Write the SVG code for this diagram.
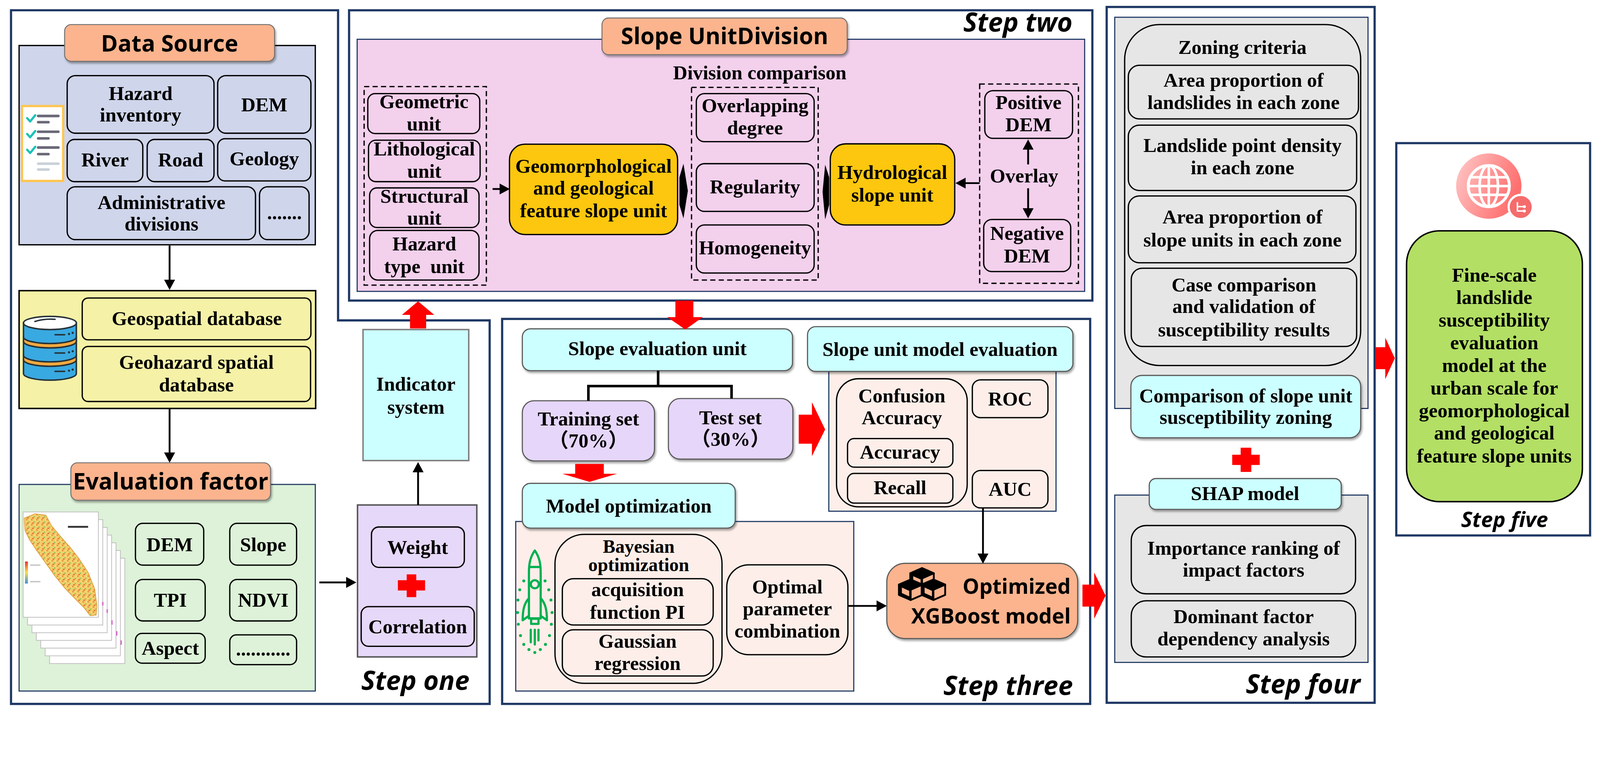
<svg xmlns="http://www.w3.org/2000/svg" xmlns:xlink="http://www.w3.org/1999/xlink" width="4359" height="1948" viewBox="0 0 4359 1948" style="max-width:100vw;height:auto">
<defs>
<style>
.t{font-family:"Liberation Serif","Times New Roman","Noto Sans CJK SC",serif;font-weight:bold;font-size:54px;fill:#000;text-anchor:middle}
.h{font-family:"Open Sans","Liberation Sans",sans-serif;font-weight:bold;font-size:62px;fill:#000;text-anchor:middle}
.st{font-family:"Open Sans","Liberation Sans",sans-serif;font-weight:bold;font-style:italic;font-size:72px;fill:#000;text-anchor:end}
.frame{fill:none;stroke:#1F3864;stroke-width:6}
.panel{stroke:#1F3864;stroke-width:3}
.bx{stroke:#000;stroke-width:3.5}
.nb{fill:none;stroke:#000;stroke-width:3.5}
.dash{fill:none;stroke:#000;stroke-width:3.5;stroke-dasharray:14 9}
.cyan{fill:#CCFFFF;stroke:#595959;stroke-width:3;filter:url(#sh)}
.hdr{fill:#FBB48E;stroke:#6E6E6E;stroke-width:2.5;filter:url(#sh)}
.conn{fill:none;stroke:#000;stroke-width:5;marker-end:url(#ah)}
.red{fill:#FF0000}
.rk{fill:none;stroke:#00B050;stroke-width:6;stroke-linejoin:round;stroke-linecap:round}
.dot{fill:#00B050}
.db{stroke:#263238;stroke-width:4}
</style>
<marker id="ah" markerWidth="28" markerHeight="30" refX="1" refY="15" orient="auto" markerUnits="userSpaceOnUse">
<path d="M0,0 L28,15 L0,30 Z" fill="#000"/>
</marker>
<filter id="sh" x="-10%" y="-15%" width="125%" height="140%">
<feDropShadow dx="3" dy="5" stdDeviation="3" flood-color="#000" flood-opacity="0.35"/>
</filter>
<linearGradient id="globeG" x1="0" y1="0" x2="1" y2="0.4">
<stop offset="0" stop-color="#FFC9C9"/>
<stop offset="1" stop-color="#FF6F6F"/>
</linearGradient>
<linearGradient id="legG" x1="0" y1="0" x2="0" y2="1">
<stop offset="0" stop-color="#E8322C"/>
<stop offset="0.5" stop-color="#F9E04A"/>
<stop offset="1" stop-color="#3A8FE0"/>
</linearGradient>
<pattern id="mott" width="14" height="14" patternUnits="userSpaceOnUse">
<rect width="14" height="14" fill="#F3CF6A"/>
<rect x="0" y="0" width="5" height="4" fill="#E9963F"/>
<rect x="7" y="6" width="4" height="4" fill="#9CC45B"/>
<rect x="3" y="10" width="5" height="3" fill="#E46A35"/>
<rect x="10" y="1" width="3" height="3" fill="#F7E58A"/>
</pattern>
<g id="cube">
<path d="M0,14 L32,0 L64,14 L32,28 Z" fill="#000" stroke="#000" stroke-width="5" stroke-linejoin="round"/>
<path d="M0,14 L32,28 L32,56 L0,42 Z" fill="#000" stroke="#000" stroke-width="5" stroke-linejoin="round"/>
<path d="M32,28 L64,14 L64,42 L32,56 Z" fill="#FBB48E" stroke="#000" stroke-width="5" stroke-linejoin="round"/>
<path d="M8,22 L28,31 L28,46 L8,37 Z" fill="#FBB48E"/>
</g>
<g id="sheet">
<rect x="0" y="0" width="205" height="287" fill="#FFFFFF" stroke="#BDBDBD" stroke-width="2"/>
</g>
</defs>

<rect x="0" y="0" width="4359" height="1948" fill="#FFFFFF"/>

<!-- Step frames -->
<g id="frames">
<path class="frame" d="M30,28 H921 V873 H1334 V1918 H30 Z"/>
<rect class="frame" x="951" y="28" width="2025" height="791"/>
<rect class="frame" x="1368" y="869" width="1602" height="1049"/>
<rect class="frame" x="3015" y="19" width="730" height="1896"/>
<rect class="frame" x="3804" y="390" width="528" height="1069"/>
</g>

<!-- ================= STEP ONE ================= -->
<g id="data-source">
<rect x="52" y="124" width="807" height="543" fill="#CFD5EA" stroke="#000" stroke-width="3.5"/>
<rect class="hdr" x="176" y="67" width="572" height="100" rx="18"/>
<text class="h" x="462" y="140">Data Source</text>
<g id="checklist-icon">
<rect x="60" y="289" width="112" height="204" fill="#FFFFFF" stroke="#FFC54D" stroke-width="6"/>
<path d="M74,322 L82,331 L96,314 M74,365 L82,374 L96,357 M74,408 L82,417 L96,400" fill="none" stroke="#1BC2B8" stroke-width="6" stroke-linecap="round" stroke-linejoin="round"/>
<path d="M104,316 H159 M104,333 H132 M104,359 H159 M104,377 H132 M104,402 H159 M104,420 H132" stroke="#6B6878" stroke-width="7" stroke-linecap="round"/>
<path d="M104,446 H159 M104,462 H132" stroke="#C9D0D8" stroke-width="7" stroke-linecap="round"/>
</g>
<g id="ds-hazard"><rect class="bx" x="183" y="206" width="400" height="157" rx="22" fill="#CFD5EA"/>
<text class="t" x="383" y="272">Hazard</text><text class="t" x="383" y="331">inventory</text></g>
<g id="ds-dem"><rect class="bx" x="593" y="206" width="254" height="157" rx="22" fill="#CFD5EA"/>
<text class="t" x="720" y="303">DEM</text></g>
<g id="ds-river"><rect class="bx" x="183" y="380" width="206" height="115" rx="20" fill="#CFD5EA"/>
<text class="t" x="286" y="453">River</text></g>
<g id="ds-road"><rect class="bx" x="401" y="380" width="182" height="115" rx="20" fill="#CFD5EA"/>
<text class="t" x="492" y="453">Road</text></g>
<g id="ds-geology"><rect class="bx" x="593" y="378" width="254" height="115" rx="20" fill="#CFD5EA"/>
<text class="t" x="720" y="450">Geology</text></g>
<g id="ds-admin"><rect class="bx" x="183" y="509" width="513" height="144" rx="22" fill="#CFD5EA"/>
<text class="t" x="440" y="569">Administrative</text><text class="t" x="440" y="628">divisions</text></g>
<g id="ds-more"><rect class="bx" x="707" y="509" width="135" height="144" rx="22" fill="#CFD5EA"/>
<text class="t" x="775" y="597">.......</text></g>
</g>

<g id="database">
<rect x="52" y="792" width="808" height="321" fill="#F5F1A7" stroke="#000" stroke-width="4"/>
<g id="db-icon">
<path class="db" d="M64,980 v38 a72,18 0 0 0 144,0 v-38 z" fill="#39A9E1"/>
<path class="db" d="M64,968 v12 a72,18 0 0 0 144,0 v-12 z" fill="#F4A93F"/>
<path class="db" d="M64,930 v38 a72,18 0 0 0 144,0 v-38 z" fill="#39A9E1"/>
<path class="db" d="M64,918 v12 a72,18 0 0 0 144,0 v-12 z" fill="#F4A93F"/>
<path class="db" d="M64,880 v38 a72,18 0 0 0 144,0 v-38 z" fill="#39A9E1"/>
<ellipse class="db" cx="136" cy="880" rx="72" ry="18" fill="#FFFFFF"/>
<path d="M95,876 Q120,868 150,870" fill="none" stroke="#263238" stroke-width="4" stroke-linecap="round"/>
<path d="M150,912 H176 M150,962 H176 M150,1012 H176" stroke="#263238" stroke-width="4" stroke-linecap="round"/>
<circle cx="188" cy="910" r="3" fill="#263238"/><circle cx="198" cy="907" r="3" fill="#263238"/>
<circle cx="188" cy="960" r="3" fill="#263238"/><circle cx="198" cy="957" r="3" fill="#263238"/>
<circle cx="188" cy="1010" r="3" fill="#263238"/><circle cx="198" cy="1007" r="3" fill="#263238"/>
</g>
<g id="db-geospatial"><rect class="bx" x="224" y="812" width="623" height="114" rx="16" fill="#F5F1A7"/>
<text class="t" x="536" y="886">Geospatial database</text></g>
<g id="db-geohazard"><rect class="bx" x="224" y="944" width="622" height="150" rx="16" fill="#F5F1A7"/>
<text class="t" x="535" y="1005">Geohazard spatial</text><text class="t" x="535" y="1067">database</text></g>
</g>

<g id="evaluation-factor">
<rect class="panel" x="52" y="1320" width="807" height="563" fill="#DDF2D8"/>
<rect class="hdr" x="193" y="1261" width="544" height="102" rx="18"/>
<text class="h" x="465" y="1334">Evaluation factor</text>
<g id="map-stack">
<use xlink:href="#sheet" x="135" y="1521"/>
<use xlink:href="#sheet" x="123" y="1500"/>
<use xlink:href="#sheet" x="111" y="1479"/>
<use xlink:href="#sheet" x="99" y="1458"/>
<use xlink:href="#sheet" x="87" y="1437"/>
<use xlink:href="#sheet" x="75" y="1416"/>
<use xlink:href="#sheet" x="63" y="1395"/>
<path d="M66,1412 L95,1400 L125,1404 L140,1432 L165,1462 L190,1490 L215,1522 L240,1560 L258,1605 L264,1650 L262,1676 L246,1678 L228,1655 L205,1632 L178,1604 L150,1570 L125,1535 L100,1500 L80,1470 L68,1445 Z" fill="url(#mott)" stroke="#E0A040" stroke-width="2"/>
<rect x="185" y="1433" width="55" height="5" fill="#333333"/>
<rect x="68" y="1530" width="8" height="60" fill="url(#legG)"/>
<path d="M82,1540 H110 M82,1585 H110" stroke="#C8C8C8" stroke-width="4"/>
<path d="M280,1640 v10 M292,1660 v10 M305,1690 v12 M318,1720 v12 M330,1745 v12" stroke="#D96FCB" stroke-width="4"/>
</g>
<g id="ef-dem"><rect class="bx" x="369" y="1426" width="186" height="114" rx="20" fill="#DDF2D8"/>
<text class="t" x="462" y="1502">DEM</text></g>
<g id="ef-slope"><rect class="bx" x="626" y="1426" width="182" height="114" rx="20" fill="#DDF2D8"/>
<text class="t" x="717" y="1502">Slope</text></g>
<g id="ef-tpi"><rect class="bx" x="369" y="1579" width="190" height="113" rx="20" fill="#DDF2D8"/>
<text class="t" x="464" y="1653">TPI</text></g>
<g id="ef-ndvi"><rect class="bx" x="626" y="1579" width="182" height="113" rx="20" fill="#DDF2D8"/>
<text class="t" x="717" y="1653">NDVI</text></g>
<g id="ef-aspect"><rect class="bx" x="369" y="1726" width="190" height="81" rx="18" fill="#DDF2D8"/>
<text class="t" x="464" y="1784">Aspect</text></g>
<g id="ef-more"><rect class="bx" x="626" y="1730" width="182" height="81" rx="18" fill="#DDF2D8"/>
<text class="t" x="717" y="1786">...........</text></g>
</g>

<g id="weight-correlation">
<rect x="974" y="1376" width="325" height="414" fill="#E6D8F8" stroke="#555555" stroke-width="4"/>
<g id="wc-weight"><rect class="bx" x="1012" y="1436" width="253" height="110" rx="20" fill="#E6D8F8"/>
<text class="t" x="1138" y="1509">Weight</text></g>
<path class="red" d="M1108,1565 H1134 V1581 H1158 V1609 H1134 V1627 H1108 V1609 H1084 V1581 H1108 Z"/>
<g id="wc-correlation"><rect class="bx" x="984" y="1653" width="308" height="108" rx="20" fill="#E6D8F8"/>
<text class="t" x="1138" y="1726">Correlation</text></g>
</g>

<g id="indicator-system">
<rect x="989" y="898" width="288" height="357" fill="#CCFFFF" stroke="#7F7F7F" stroke-width="4"/>
<text class="t" x="1133" y="1064">Indicator</text><text class="t" x="1133" y="1127">system</text>
</g>
<text class="st" x="1279" y="1880">Step one</text>

<!-- ================= STEP TWO ================= -->
<g id="slope-unit-division">
<rect class="panel" x="973" y="107" width="1982" height="687" fill="#F3D0EC"/>
<rect class="hdr" x="1640" y="49" width="668" height="100" rx="18"/>
<text class="h" x="1974" y="120">Slope UnitDivision</text>
<text class="t" x="2070" y="216">Division comparison</text>
</g>
<text class="st" x="2922" y="86">Step two</text>

<g id="unit-types">
<rect class="dash" x="992" y="236" width="333" height="541"/>
<g id="ut-geometric"><rect class="bx" x="1002" y="255" width="305" height="109" rx="20" fill="#F3D0EC"/>
<text class="t" x="1155" y="295">Geometric</text><text class="t" x="1155" y="356">unit</text></g>
<g id="ut-lithological"><rect class="bx" x="1004" y="382" width="304" height="113" rx="20" fill="#F3D0EC"/>
<text class="t" x="1156" y="424">Lithological</text><text class="t" x="1156" y="484">unit</text></g>
<g id="ut-structural"><rect class="bx" x="1007" y="512" width="298" height="108" rx="20" fill="#F3D0EC"/>
<text class="t" x="1156" y="553">Structural</text><text class="t" x="1156" y="612">unit</text></g>
<g id="ut-hazard"><rect class="bx" x="1007" y="628" width="298" height="135" rx="22" fill="#F3D0EC"/>
<text class="t" x="1156" y="682">Hazard</text><text class="t" x="1156" y="744" xml:space="preserve">type  unit</text></g>
</g>

<g id="geomorph-unit">
<rect class="bx" x="1388" y="393" width="458" height="246" rx="42" fill="#FCC70E" stroke-width="4"/>
<text class="t" x="1617" y="471">Geomorphological</text>
<text class="t" x="1617" y="530">and geological</text>
<text class="t" x="1617" y="592">feature slope unit</text>
</g>

<g id="comparison-criteria">
<rect class="dash" x="1884" y="238" width="345" height="525"/>
<g id="cc-overlap"><rect class="bx" x="1897" y="255" width="321" height="131" rx="22" fill="#F3D0EC"/>
<text class="t" x="2057" y="306">Overlapping</text><text class="t" x="2057" y="366">degree</text></g>
<g id="cc-regularity"><rect class="bx" x="1897" y="446" width="321" height="130" rx="22" fill="#F3D0EC"/>
<text class="t" x="2057" y="527">Regularity</text></g>
<g id="cc-homogeneity"><rect class="bx" x="1897" y="613" width="321" height="131" rx="22" fill="#F3D0EC"/>
<text class="t" x="2057" y="693">Homogeneity</text></g>
</g>

<g id="hydro-unit">
<rect class="bx" x="2262" y="392" width="339" height="221" rx="42" fill="#FCC70E" stroke-width="4"/>
<text class="t" x="2431" y="488">Hydrological</text>
<text class="t" x="2431" y="549">slope unit</text>
</g>

<g id="dem-overlay">
<rect class="dash" x="2669" y="229" width="269" height="543"/>
<g id="dem-positive"><rect class="bx" x="2683" y="247" width="239" height="130" rx="22" fill="#F3D0EC"/>
<text class="t" x="2802" y="297">Positive</text><text class="t" x="2802" y="358">DEM</text></g>
<g id="dem-negative"><rect class="bx" x="2680" y="598" width="237" height="142" rx="22" fill="#F3D0EC"/>
<text class="t" x="2798" y="654">Negative</text><text class="t" x="2798" y="715">DEM</text></g>
<text class="t" x="2790" y="497">Overlay</text>
</g>

<!-- ================= STEP THREE ================= -->
<g id="slope-eval-unit">
<rect class="cyan" x="1423" y="896" width="736" height="114" rx="22"/>
<text class="t" x="1791" y="968">Slope evaluation unit</text>
</g>
<g id="training-set">
<rect x="1423" y="1092" width="360" height="164" rx="32" fill="#E6D6FA" stroke="#595959" stroke-width="3" filter="url(#sh)"/>
<text class="t" x="1603" y="1159">Training set</text>
<text class="t" x="1603" y="1219">（70%）</text>
</g>
<g id="test-set">
<rect x="1821" y="1086" width="339" height="165" rx="32" fill="#E6D6FA" stroke="#595959" stroke-width="3" filter="url(#sh)"/>
<text class="t" x="1990" y="1156">Test set</text>
<text class="t" x="1990" y="1215">（30%）</text>
</g>

<g id="model-optimization">
<rect class="panel" x="1405" y="1421" width="921" height="462" fill="#FDEEE9"/>
<rect class="cyan" x="1423" y="1317" width="580" height="122" rx="22"/>
<text class="t" x="1713" y="1397">Model optimization</text>
<g id="rocket-icon">
<path class="rk" d="M1457,1500 C1443,1520 1441,1540 1441,1560 L1441,1685 L1473,1685 L1473,1560 C1473,1540 1471,1520 1457,1500 Z"/>
<path class="rk" d="M1442,1545 H1472"/>
<circle class="rk" cx="1457" cy="1592" r="11"/>
<path class="rk" d="M1441,1630 C1427,1645 1424,1665 1424,1690 L1441,1678 M1473,1630 C1487,1645 1490,1665 1490,1690 L1473,1678"/>
<rect class="rk" x="1447" y="1686" width="20" height="14"/>
<path class="rk" d="M1446,1716 V1750 M1457,1716 V1756 M1467,1716 V1745"/>
<circle class="dot" cx="1427" cy="1583" r="4"/><circle class="dot" cx="1416" cy="1607" r="4"/>
<circle class="dot" cx="1411" cy="1635" r="4"/><circle class="dot" cx="1410" cy="1669" r="4"/>
<circle class="dot" cx="1412" cy="1701" r="4"/><circle class="dot" cx="1418" cy="1732" r="4"/>
<circle class="dot" cx="1427" cy="1756" r="4"/><circle class="dot" cx="1441" cy="1770" r="4"/>
<circle class="dot" cx="1457" cy="1778" r="4"/><circle class="dot" cx="1472" cy="1770" r="4"/>
<circle class="dot" cx="1486" cy="1756" r="4"/><circle class="dot" cx="1497" cy="1732" r="4"/>
<circle class="dot" cx="1502" cy="1701" r="4"/><circle class="dot" cx="1504" cy="1669" r="4"/>
<circle class="dot" cx="1501" cy="1635" r="4"/><circle class="dot" cx="1495" cy="1607" r="4"/>
<circle class="dot" cx="1485" cy="1583" r="4"/>
</g>
<g id="bayesian">
<rect class="nb" x="1512" y="1456" width="455" height="406" rx="80"/>
<text class="t" x="1740" y="1506" style="font-size:51px">Bayesian</text>
<text class="t" x="1740" y="1556" style="font-size:51px">optimization</text>
<g id="bo-acquisition"><rect class="nb" x="1532" y="1577" width="411" height="126" rx="30"/>
<text class="t" x="1737" y="1624">acquisition</text><text class="t" x="1737" y="1686">function PI</text></g>
<g id="bo-gaussian"><rect class="nb" x="1532" y="1716" width="411" height="126" rx="30"/>
<text class="t" x="1737" y="1765">Gaussian</text><text class="t" x="1737" y="1826">regression</text></g>
</g>
<g id="optimal-params">
<rect class="nb" x="1980" y="1539" width="330" height="245" rx="60"/>
<text class="t" x="2145" y="1617">Optimal</text>
<text class="t" x="2145" y="1677">parameter</text>
<text class="t" x="2145" y="1737">combination</text>
</g>
</g>

<g id="model-evaluation">
<rect class="panel" x="2258" y="1005" width="619" height="388" fill="#FDEEE9"/>
<rect class="cyan" x="2200" y="890" width="723" height="122" rx="22"/>
<text class="t" x="2561" y="970">Slope unit model evaluation</text>
<g id="me-confusion">
<rect class="nb" x="2279" y="1032" width="356" height="349" rx="60"/>
<text class="t" x="2457" y="1096">Confusion</text>
<text class="t" x="2457" y="1156">Accuracy</text>
<g id="me-accuracy"><rect class="nb" x="2309" y="1195" width="287" height="78" rx="18"/>
<text class="t" x="2452" y="1250">Accuracy</text></g>
<g id="me-recall"><rect class="nb" x="2309" y="1290" width="287" height="81" rx="18"/>
<text class="t" x="2452" y="1347">Recall</text></g>
</g>
<g id="me-roc"><rect class="nb" x="2649" y="1035" width="206" height="103" rx="22"/>
<text class="t" x="2752" y="1105">ROC</text></g>
<g id="me-auc"><rect class="nb" x="2649" y="1282" width="206" height="102" rx="22"/>
<text class="t" x="2752" y="1351">AUC</text></g>
</g>

<g id="xgboost">
<rect x="2416" y="1535" width="520" height="205" rx="50" fill="#FBB48E" stroke="#595959" stroke-width="3" filter="url(#sh)"/>
<g id="cubes-icon">
<use xlink:href="#cube" x="2480" y="1548"/>
<use xlink:href="#cube" x="2449" y="1579"/>
<use xlink:href="#cube" x="2511" y="1579"/>
</g>
<text class="h" x="2917" y="1618" style="text-anchor:end;font-size:57px">Optimized</text>
<text class="h" x="2917" y="1699" style="text-anchor:end;font-size:57px">XGBoost model</text>
</g>
<text class="st" x="2923" y="1894">Step three</text>

<!-- ================= STEP FOUR ================= -->
<g id="zoning">
<rect class="panel" x="3037" y="47" width="690" height="1066" fill="#E6E6E6"/>
<rect class="nb" x="3064" y="67" width="643" height="929" rx="95"/>
<text class="t" x="3385" y="147">Zoning criteria</text>
<g id="zc-area-landslide"><rect class="bx" x="3074" y="178" width="627" height="146" rx="30" fill="#E6E6E6"/>
<text class="t" x="3388" y="236">Area proportion of</text><text class="t" x="3388" y="297">landslides in each zone</text></g>
<g id="zc-density"><rect class="bx" x="3074" y="341" width="622" height="178" rx="30" fill="#E6E6E6"/>
<text class="t" x="3385" y="414">Landslide point density</text><text class="t" x="3385" y="475">in each zone</text></g>
<g id="zc-area-slope"><rect class="bx" x="3074" y="534" width="620" height="182" rx="30" fill="#E6E6E6"/>
<text class="t" x="3385" y="609">Area proportion of</text><text class="t" x="3385" y="672">slope units in each zone</text></g>
<g id="zc-case"><rect class="bx" x="3082" y="731" width="614" height="213" rx="30" fill="#E6E6E6"/>
<text class="t" x="3389" y="794">Case comparison</text><text class="t" x="3389" y="853">and validation of</text><text class="t" x="3389" y="916">susceptibility results</text></g>
</g>
<g id="zoning-comparison">
<rect class="cyan" x="3081" y="1023" width="626" height="170" rx="30"/>
<text class="t" x="3394" y="1096">Comparison of slope unit</text>
<text class="t" x="3394" y="1155">susceptibility zoning</text>
</g>
<path class="red" d="M3380,1220 H3409 V1239 H3432 V1267 H3409 V1286 H3380 V1267 H3357 V1239 H3380 Z"/>
<g id="shap">
<rect class="panel" x="3037" y="1349" width="690" height="456" fill="#E6E6E6"/>
<rect class="cyan" x="3131" y="1304" width="523" height="84" rx="18"/>
<text class="t" x="3392" y="1363">SHAP model</text>
<g id="shap-importance"><rect class="bx" x="3082" y="1432" width="611" height="186" rx="40" fill="#E6E6E6"/>
<text class="t" x="3388" y="1512">Importance ranking of</text><text class="t" x="3388" y="1571">impact factors</text></g>
<g id="shap-dominant"><rect class="bx" x="3082" y="1637" width="611" height="153" rx="40" fill="#E6E6E6"/>
<text class="t" x="3388" y="1698">Dominant factor</text><text class="t" x="3388" y="1759">dependency analysis</text></g>
</g>
<text class="st" x="3706" y="1890">Step four</text>

<!-- ================= STEP FIVE ================= -->
<g id="globe-icon">
<circle cx="4056" cy="507" r="89" fill="url(#globeG)"/>
<circle cx="4056" cy="507" r="56" fill="none" stroke="#FFFFFF" stroke-width="8"/>
<ellipse cx="4056" cy="507" rx="25" ry="56" fill="none" stroke="#FFFFFF" stroke-width="7"/>
<path d="M4056,451 V563 M4000,507 H4112 M4006,483 H4106 M4006,531 H4106" stroke="#FFFFFF" stroke-width="7"/>
<circle cx="4143" cy="564" r="33" fill="#F56C6C" stroke="#FFFFFF" stroke-width="6"/>
<path d="M4134,551 V575 H4152 M4134,563 H4150" fill="none" stroke="#FFFFFF" stroke-width="4"/>
<circle cx="4153" cy="563" r="4" fill="#FFFFFF"/><circle cx="4153" cy="575" r="4" fill="#FFFFFF"/>
</g>
<g id="final-model">
<rect x="3832" y="629" width="479" height="738" rx="90" fill="#B3DF65" stroke="#000" stroke-width="4"/>
<text class="t" x="4071" y="767">Fine-scale</text>
<text class="t" x="4071" y="828">landslide</text>
<text class="t" x="4071" y="890">susceptibility</text>
<text class="t" x="4071" y="952">evaluation</text>
<text class="t" x="4071" y="1013">model at the</text>
<text class="t" x="4071" y="1075">urban scale for</text>
<text class="t" x="4071" y="1137">geomorphological</text>
<text class="t" x="4071" y="1198">and geological</text>
<text class="t" x="4071" y="1260">feature slope units</text>
</g>
<text class="st" x="4099" y="1436" style="text-anchor:middle;font-size:58px">Step five</text>

<!-- ================= CONNECTORS ================= -->
<g id="connectors">
<line class="conn" x1="462" y1="669" x2="462" y2="763"/>
<line class="conn" x1="462" y1="1114" x2="462" y2="1234"/>
<line class="conn" x1="870" y1="1587" x2="944" y2="1587"/>
<line class="conn" x1="1139" y1="1376" x2="1139" y2="1286"/>
<line class="conn" x1="1342" y1="515" x2="1362" y2="515"/>
<path d="M1851,483 L1851,558 L1862,595 L1874,520 L1862,446 Z" fill="#000"/>
<path d="M2259,483 L2259,558 L2248,598 L2241,523 L2248,449 Z" fill="#000"/>
<line class="conn" x1="2669" y1="499" x2="2630" y2="499"/>
<line class="conn" x1="2801" y1="448" x2="2801" y2="407"/>
<line class="conn" x1="2801" y1="513" x2="2801" y2="568"/>
<path d="M1793,1010 V1052 M1603,1092 V1052 H1993 V1086" fill="none" stroke="#000" stroke-width="7"/>
<line class="conn" x1="2678" y1="1384" x2="2678" y2="1509"/>
<line class="conn" x1="2310" y1="1651" x2="2389" y2="1651"/>
<polygon class="red" points="1117,895 1117,858 1095,858 1139,821 1183,858 1161,858 1161,895"/>
<polygon class="red" points="1840,819 1840,864 1818,864 1867,898 1915,864 1889,864 1889,819"/>
<polygon class="red" points="2176,1130 2212,1130 2212,1096 2248,1170 2212,1243 2212,1209 2176,1209"/>
<polygon class="red" points="1567,1264 1645,1264 1645,1291 1681,1291 1606,1313 1532,1291 1567,1291"/>
<polygon class="red" points="2949,1593 2981,1593 2981,1560 3012,1623 2981,1686 2981,1653 2949,1653"/>
<polygon class="red" points="3747,946 3774,946 3774,920 3800,976 3774,1033 3774,1006 3747,1006"/>
</g>
</svg>
